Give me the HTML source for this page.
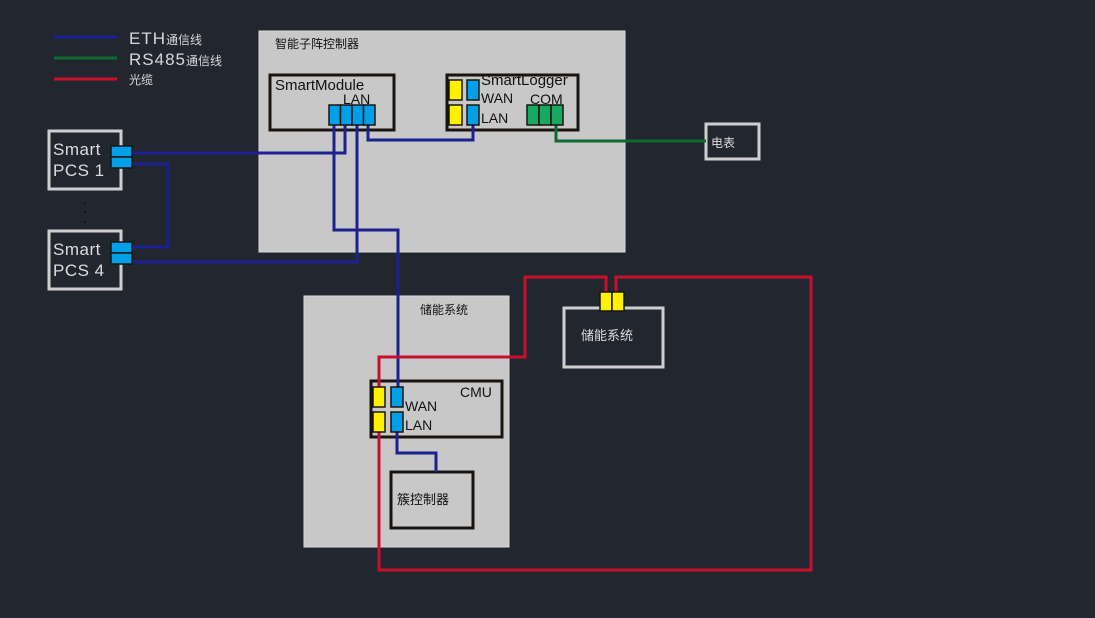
<!DOCTYPE html>
<html><head><meta charset="utf-8"><style>
html,body{margin:0;padding:0;background:#22272f;}
svg{display:block}
text{font-family:"Liberation Sans","Noto Sans CJK SC",sans-serif;}
</style></head><body>
<svg width="1095" height="618" viewBox="0 0 1095 618">
<rect width="1095" height="618" fill="#22272f"/>
<!-- legend -->
<line x1="54" y1="37" x2="117" y2="37" stroke="#1b2190" stroke-width="3"/>
<line x1="54" y1="58" x2="117" y2="58" stroke="#0b6b30" stroke-width="3"/>
<line x1="54" y1="79" x2="117" y2="79" stroke="#c8102e" stroke-width="3"/>
<text x="129" y="44" fill="#d8d8d8" font-size="17" letter-spacing="1">ETH<tspan font-size="12" letter-spacing="0">通信线</tspan></text>
<text x="129" y="65" fill="#d8d8d8" font-size="17" letter-spacing="1">RS485<tspan font-size="12" letter-spacing="0">通信线</tspan></text>
<text x="129" y="84" fill="#d8d8d8" font-size="12">光缆</text>

<!-- panel 1 -->
<rect x="259" y="31" width="366" height="221" fill="#c8c8c8" stroke="#d8d8d8"/>
<text x="275" y="48" fill="#111" font-size="12">智能子阵控制器</text>
<rect x="270" y="75" width="124" height="55" fill="none" stroke="#1a1410" stroke-width="3"/>
<text x="275" y="90" fill="#111" font-size="15">SmartModule</text>
<text x="343" y="104" fill="#111" font-size="14">LAN</text>
<rect x="447" y="75" width="131" height="55" fill="none" stroke="#1a1410" stroke-width="3"/>
<text x="481" y="85" fill="#111" font-size="15">SmartLogger</text>
<text x="481" y="103" fill="#111" font-size="14">WAN</text>
<text x="481" y="123" fill="#111" font-size="14">LAN</text>
<text x="530" y="104" fill="#111" font-size="14">COM</text>

<!-- panel 2 -->
<rect x="304" y="296" width="205" height="251" fill="#c8c8c8" stroke="#d8d8d8"/>
<text x="420" y="314" fill="#111" font-size="12">储能系统</text>
<rect x="371" y="381" width="131" height="56" fill="none" stroke="#1a1410" stroke-width="3"/>
<text x="460" y="397" fill="#111" font-size="14">CMU</text>
<text x="405" y="411" fill="#111" font-size="14">WAN</text>
<text x="405" y="430" fill="#111" font-size="14">LAN</text>
<rect x="391" y="472" width="82" height="56" fill="none" stroke="#1a1410" stroke-width="3"/>
<text x="397" y="504" fill="#111" font-size="13">簇控制器</text>

<!-- PCS boxes -->
<rect x="49" y="131" width="72" height="58" fill="none" stroke="#cfcfcf" stroke-width="3"/>
<text x="53" y="155" fill="#ddd" font-size="17" letter-spacing="0.5">Smart</text>
<text x="53" y="176" fill="#ddd" font-size="17" letter-spacing="0.5">PCS 1</text>
<rect x="49" y="231" width="72" height="58" fill="none" stroke="#cfcfcf" stroke-width="3"/>
<text x="53" y="255" fill="#ddd" font-size="17" letter-spacing="0.5">Smart</text>
<text x="53" y="276" fill="#ddd" font-size="17" letter-spacing="0.5">PCS 4</text>
<circle cx="85" cy="203" r="1" fill="#111"/><circle cx="85" cy="212" r="1" fill="#111"/><circle cx="85" cy="222" r="1" fill="#111"/>

<!-- meter -->
<rect x="706" y="124" width="53" height="35" fill="none" stroke="#cfcfcf" stroke-width="3"/>
<text x="711" y="147" fill="#ddd" font-size="12">电表</text>
<!-- right storage -->
<rect x="564" y="308" width="99" height="59" fill="none" stroke="#cfcfcf" stroke-width="3"/>
<text x="581" y="340" fill="#ddd" font-size="13">储能系统</text>

<!-- blue lines -->
<g fill="none" stroke="#1b2190" stroke-width="3">
<polyline points="334,125 334,230 398,230 398,388"/>
<polyline points="345,125 345,153 128,153"/>
<polyline points="357,125 357,262 128,262"/>
<polyline points="368,125 368,140 473,140 473,125"/>
<polyline points="128,164 168,164 168,247 128,247"/>
<polyline points="397,432 397,453 436,453 436,472"/>
</g>
<polyline points="556,125 556,141 706,141" fill="none" stroke="#0b6b30" stroke-width="3"/>
<!-- red -->
<g fill="none" stroke="#c8102e" stroke-width="3">
<polyline points="379,388 379,357 525,357 525,277 606,277 606,293"/>
<polyline points="616,293 616,277 811,277 811,570 379,570 379,432"/>
</g>

<!-- ports -->
<g stroke="#1a1410" stroke-width="1.5">
<rect x="329" y="105" width="11.5" height="20" fill="#00a0e9"/>
<rect x="340.5" y="105" width="11.5" height="20" fill="#00a0e9"/>
<rect x="352" y="105" width="11.5" height="20" fill="#00a0e9"/>
<rect x="363.5" y="105" width="11.5" height="20" fill="#00a0e9"/>
<rect x="449" y="80" width="13" height="20" fill="#fff200"/>
<rect x="449" y="105" width="13" height="20" fill="#fff200"/>
<rect x="467" y="80" width="12" height="20" fill="#00a0e9"/>
<rect x="467" y="105" width="12" height="20" fill="#00a0e9"/>
<rect x="527" y="105" width="12" height="20" fill="#15aa60"/>
<rect x="539" y="105" width="12" height="20" fill="#15aa60"/>
<rect x="551" y="105" width="12" height="20" fill="#15aa60"/>
<rect x="111" y="146" width="21" height="11" fill="#00a0e9"/>
<rect x="111" y="157" width="21" height="11" fill="#00a0e9"/>
<rect x="111" y="242" width="21" height="11" fill="#00a0e9"/>
<rect x="111" y="253" width="21" height="11" fill="#00a0e9"/>
<rect x="373" y="387" width="12" height="20" fill="#fff200"/>
<rect x="373" y="412" width="12" height="20" fill="#fff200"/>
<rect x="391" y="387" width="12" height="20" fill="#00a0e9"/>
<rect x="391" y="412" width="12" height="20" fill="#00a0e9"/>
<rect x="600" y="292" width="12" height="19" fill="#fff200"/>
<rect x="612" y="292" width="12" height="19" fill="#fff200"/>
</g>
</svg>
</body></html>
